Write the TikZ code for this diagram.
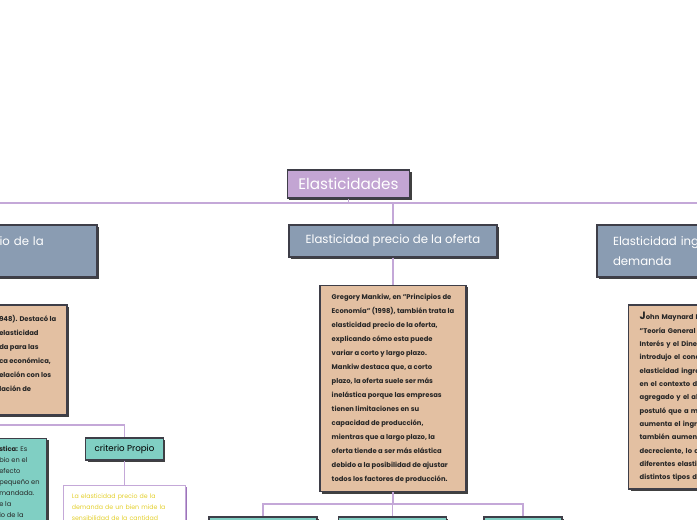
\documentclass[tikz,border=0pt]{standalone}
\usepackage{fontspec}
\setmainfont{Poppins}
\usetikzlibrary{shadows}

\definecolor{lila}{HTML}{C3A5D3}
\definecolor{pizarra}{HTML}{8A9CB2}
\definecolor{durazno}{HTML}{E3C0A2}
\definecolor{turquesa}{HTML}{80CFC3}
\definecolor{borde}{HTML}{3E3E48}
\definecolor{rama}{HTML}{C4A8D8}
\definecolor{amarillo}{HTML}{E4D02C}
\definecolor{morado}{HTML}{9C74BA}

\tikzset{
  caja/.style={draw=borde, line width=0.8pt,
               drop shadow={shadow xshift=1.4pt, shadow yshift=-1.4pt,
                            opacity=1, fill=black!75}},
  cabeza/.style={caja, fill=pizarra, text=white, minimum width=156pt,
                 font=\fontsize{8.8}{15}\selectfont},
  texto/.style={caja, fill=durazno, text=black!85, align=left,
                font=\bfseries\fontsize{5.1}{10.5}\selectfont},
  verde/.style={caja, fill=turquesa},
  conector/.style={draw=rama, line width=0.8pt}
}

\begin{document}
\begin{tikzpicture}[x=0.75pt, y=-0.75pt]
  \useasboundingbox (0,0) rectangle (697,520);
  \clip (0,0) rectangle (697,520);

  % levels of the map
  \coordinate (bus) at (0,203);
  \coordinate (busofe) at (0,504);
  \coordinate (busdem) at (0,425);

  % root
  \node[caja, fill=lila, text=white, minimum width=92pt, minimum height=21pt,
        font=\fontsize{11.4}{13}\selectfont] (tit) at (348.5,184) {Elasticidades};

  % first branch level
  \node[cabeza, minimum height=39pt, align=left, text width=132pt,
        inner xsep=12pt] (dem) at (-7,251) {Elasticidad precio de la\\demanda};
  \node[cabeza, minimum height=24pt] (ofe) at (393,241)
        {Elasticidad precio de la oferta};
  \node[cabeza, minimum height=39pt, align=left, text width=132pt,
        inner xsep=12pt] (ing) at (701,251) {Elasticidad ingreso de la\\demanda};

  % descriptions
  \node[texto, minimum width=109.5pt, minimum height=155pt]
        (txo) at (393,388.5) {Gregory Mankiw, en "Principios de\\
        Economía" (1998), también trata la\\
        elasticidad precio de la oferta,\\
        explicando cómo esta puede\\
        variar a corto y largo plazo.\\
        Mankiw destaca que, a corto\\
        plazo, la oferta suele ser más\\
        inelástica porque las empresas\\
        tienen limitaciones en su\\
        capacidad de producción,\\
        mientras que a largo plazo, la\\
        oferta tiende a ser más elástica\\
        debido a la posibilidad de ajustar\\
        todos los factores de producción.};

  \node[texto, minimum width=109.5pt, minimum height=82.5pt] (txd) at (-6,360) {};
  \node[anchor=west, inner sep=0pt, align=left, text=black!85,
        font=\bfseries\fontsize{5.1}{10.5}\selectfont] (txdt) at (-1,353.5)
        {948). Destacó la\\ elasticidad\\ da para las\\ ca económica,\\
         elación con los\\ lación de};

  \node[texto, text width=93.5pt, inner xsep=8.25pt, minimum height=138pt,
        font=\bfseries\fontsize{5.1}{10}\selectfont] (txi) at (702,397)
        {{\fontsize{8}{10}\selectfont J}ohn Maynard K\\
        "Teoría General d\\
        Interés y el Dine\\
        introdujo el conc\\
        elasticidad ingre\\
        en el contexto de\\
        agregado y el al\\
        postuló que a me\\
        aumenta el ingre\\
        también aument\\
        decreciente, lo q\\
        diferentes elasti\\
        distintos tipos d};

  % criteria below the demand text
  \node[verde, anchor=north, minimum width=95pt, minimum height=90pt]
        (est) at (-16.5,438) {};
  \node[anchor=north west, inner sep=0pt, align=left, text=black!85,
        font=\fontsize{5}{8.25}\selectfont] (estt) at (-1,446)
        {\textbf{stica:} Es\\ bio en el\\ efecto\\ pequeño en\\ mandada.\\
         e la\\ io de la};
  \node[verde, minimum width=58pt, minimum height=16.5pt,
        font=\fontsize{6.5}{8}\selectfont] (cri) at (124.5,449) {criterio Propio};
  \node[draw=rama, fill=white, line width=0.8pt, anchor=north,
        drop shadow={shadow xshift=1.4pt, shadow yshift=-1.4pt, opacity=1, fill=morado},
        text width=79pt, inner xsep=6pt, inner ysep=6pt, align=left,
        text=amarillo, font=\fontsize{4.7}{8.25}\selectfont] (def) at (124.5,485)
        {La elasticidad precio de la\\ demanda de un bien mide la\\
         sensibilidad de la cantidad};

  % supply children
  \node[verde, minimum width=81pt, minimum height=30pt] (ef1) at (263,537) {};
  \node[verde, minimum width=81pt, minimum height=30pt] (ef2) at (392.5,537) {};
  \node[verde, minimum width=58.5pt, minimum height=30pt] (ef3) at (523,537) {};

  % connectors
  \draw[conector] (tit.south) -- (tit.south |- bus) -| (dem.north);
  \draw[conector] (tit.south |- bus) -| (ofe.north);
  \draw[conector] (tit.south |- bus) -| (ing.north);
  \draw[conector] (dem.south) -- (txd.north);
  \draw[conector] (ofe.south) -- (txo.north);
  \draw[conector] (ing.south) -- (txi.north);
  \draw[conector] (txo.south) -- (txo.south |- busofe) -| (ef1.north);
  \draw[conector] (txo.south |- busofe) -| (ef2.north);
  \draw[conector] (txo.south |- busofe) -| (ef3.north);
  \draw[conector] (txd.south) -- (txd.south |- busdem) -| (cri.north);
  \draw[conector] (txd.south |- busdem) -| (est.north);
  \draw[conector] (cri.south) -- (def.north);
\end{tikzpicture}
\end{document}
